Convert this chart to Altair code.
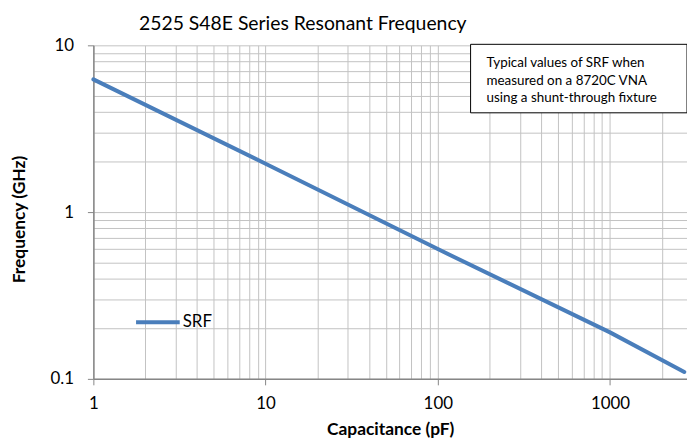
import altair as alt
import pandas as pd

# Data
capacitance_pf = [1, 10, 100, 1000, 2700]
srf_ghz = [6.25, 1.95, 0.60, 0.19, 0.110]
series_name = ["SRF"] * len(capacitance_pf)

x_grid_values = [m * 10 ** e for e in range(0, 4) for m in range(1, 10)]
y_grid_values = [round(m * 10 ** e, 4) for e in (-1, 0) for m in range(1, 10)] + [10]

chart_title = "2525 S48E Series Resonant Frequency"
note_lines = "Typical values of SRF when\nmeasured on a 8720C VNA\nusing a shunt-through fixture"

df = pd.DataFrame({"C": capacitance_pf, "F": srf_ghz, "series": series_name})

FONT = "Lato"
major_test = "abs(log(datum.value)/LN10 - round(log(datum.value)/LN10)) < 0.001"

x_axis = alt.Axis(
    values=x_grid_values,
    labelExpr=f"({major_test}) ? format(datum.value, '~g') : ''",
    grid=True,
    gridColor="#c3c3c3",
    gridWidth=1,
    domainColor="#868686",
    domainWidth=1.5,
    tickColor="#868686",
    tickSize=6,
    tickOpacity={"condition": {"test": major_test, "value": 1}, "value": 0},
    labelFont=FONT,
    labelFontSize=17,
    labelColor="#000000",
    labelPadding=11,
    labelFlush=False,
    labelOverlap=False,
    title="Capacitance (pF)",
    titleFont=FONT,
    titleFontSize=17.5,
    titleFontWeight="bold",
    titleColor="#000000",
    titleBaseline="alphabetic",
    titleY=56,
)

y_axis = alt.Axis(
    values=y_grid_values,
    labelExpr=f"({major_test}) ? format(datum.value, '~g') : ''",
    grid=True,
    gridColor="#c3c3c3",
    gridWidth=1,
    domainColor="#868686",
    domainWidth=1.5,
    tickColor="#868686",
    tickSize=6,
    tickOpacity={"condition": {"test": major_test, "value": 1}, "value": 0},
    labelFont=FONT,
    labelFontSize=17,
    labelColor="#000000",
    labelPadding=14,
    labelFlush=False,
    labelOverlap=False,
    title="Frequency (GHz)",
    titleFont=FONT,
    titleFontSize=17.5,
    titleFontWeight="bold",
    titleColor="#000000",
    titleAngle=-90,
    titleAlign="center",
    titleBaseline="middle",
    titleX=-74,
    titleY=175,
)

line = alt.Chart(df).mark_line(strokeWidth=4, strokeCap="round").encode(
    x=alt.X("C:Q", scale=alt.Scale(type="log", domain=[1, 2800], nice=False), axis=x_axis),
    y=alt.Y("F:Q", scale=alt.Scale(type="log", domain=[0.1, 10], nice=False), axis=y_axis),
    color=alt.Color(
        "series:N",
        scale=alt.Scale(range=["#4a7ebb"]),
        legend=alt.Legend(
            title=None,
            orient="none",
            legendX=41,
            legendY=255,
            symbolType="stroke",
            symbolSize=1936,
            symbolStrokeWidth=4,
            labelFont=FONT,
            labelFontSize=17,
            labelColor="#000000",
            labelOffset=1,
            padding=0,
        ),
    ),
)

box = alt.Chart(pd.DataFrame({"a": [0]})).mark_rect(
    fill="white", stroke="black", strokeWidth=1
).encode(
    x=alt.value(380), x2=alt.value(598), y=alt.value(-1), y2=alt.value(68)
)

note = alt.Chart(pd.DataFrame({"a": [0]})).mark_text(
    text=note_lines, lineBreak="\n", align="left", baseline="middle",
    font=FONT, fontSize=13.5, lineHeight=17.5, color="#000000"
).encode(x=alt.value(396), y=alt.value(18))

title_mark = alt.Chart(pd.DataFrame({"a": [0]})).mark_text(
    text=chart_title, align="left", baseline="alphabetic",
    font=FONT, fontSize=19.5, color="#000000"
).encode(x=alt.value(46), y=alt.value(-15))

chart = alt.layer(line, box, note, title_mark).properties(
    width=598,
    height=336,
    padding={"left": 86, "top": 36, "right": 0, "bottom": 61},
    autosize=alt.AutoSizeParams(type="none"),
).configure_view(stroke=None)

chart.save("out.html", embed_options={"renderer": "svg", "actions": False})
